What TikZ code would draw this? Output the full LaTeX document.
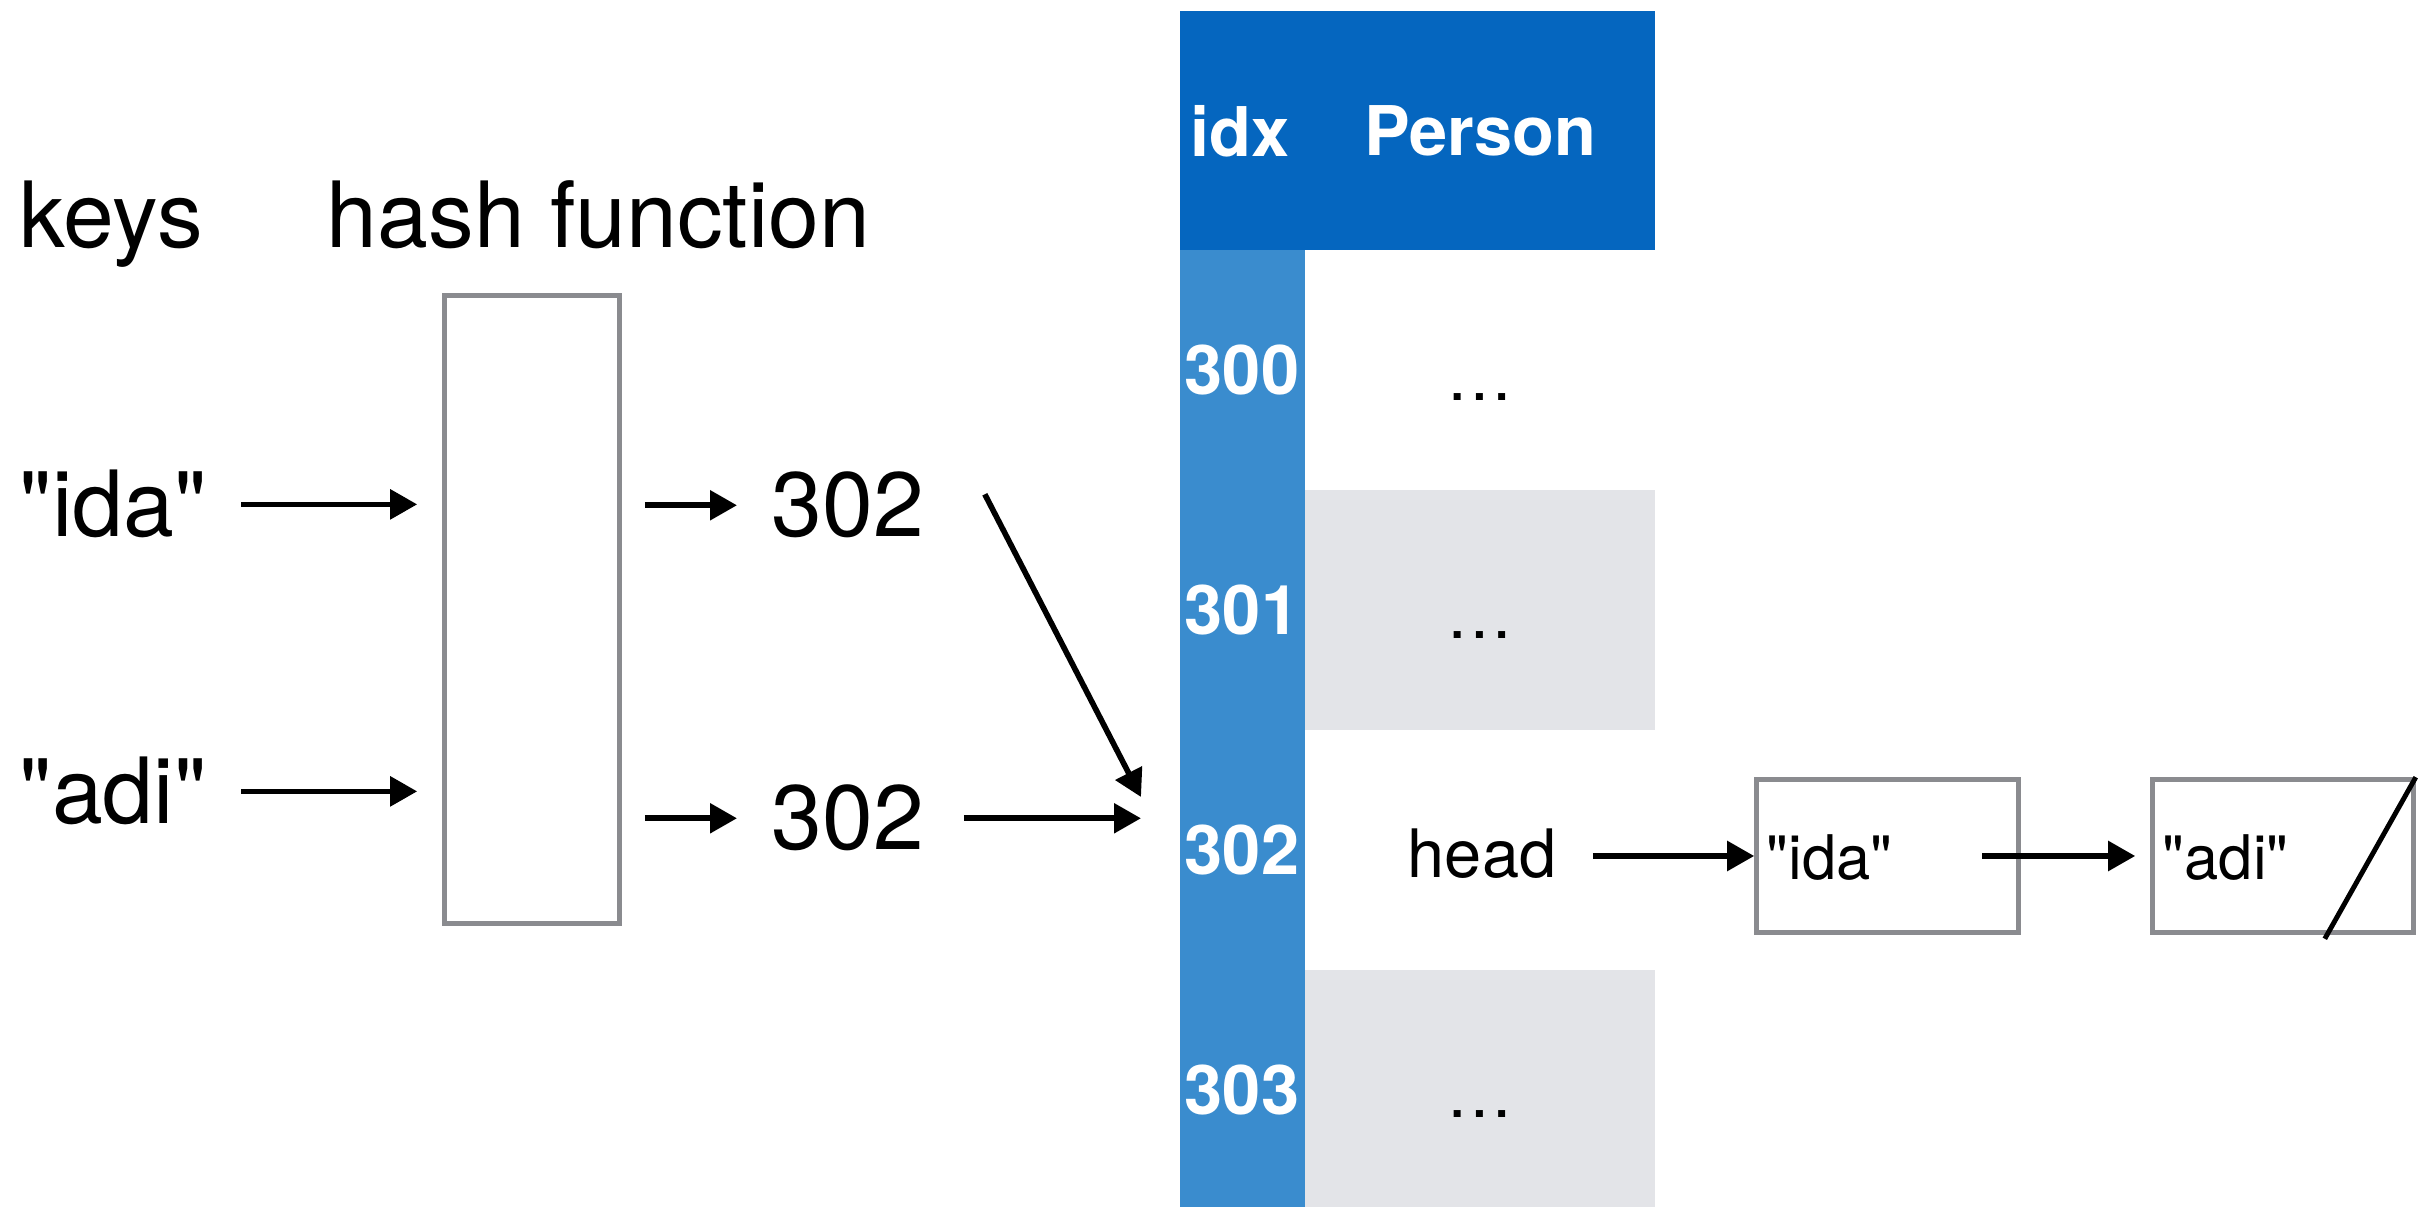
\documentclass[tikz,border=0pt]{standalone}
\usepackage{fontspec}
\setmainfont{TeX Gyre Heros}[Ligatures=TeXOff]
\usetikzlibrary{arrows.meta,positioning}

\definecolor{headblue}{RGB}{5,102,191}
\definecolor{idxblue}{RGB}{58,140,206}
\definecolor{rowgray}{RGB}{227,228,232}
\definecolor{framegray}{RGB}{138,139,143}

\tikzset{
  bigtxt/.style={font=\fontsize{26}{30}\selectfont, inner sep=0pt},
  midtxt/.style={font=\fontsize{19}{22}\selectfont, inner sep=0pt},
  celltxt/.style={font=\fontsize{17.5}{20}\selectfont, inner sep=0pt},
  boldtxt/.style={font=\bfseries\fontsize{19.5}{22}\selectfont, text=white, inner sep=0pt},
  ptr/.style={line width=1.6pt, -{Triangle[length=2.7mm, width=2.9mm]}},
  frame/.style={draw=framegray, line width=1.3pt, inner sep=0pt},
}

\begin{document}
\begin{tikzpicture}
  \useasboundingbox (0,0) rectangle (24.32,-12.07);

  % the table
  \fill[headblue] (11.80,-0.11) rectangle (16.55,-2.50);
  \fill[idxblue] (11.80,-2.50) rectangle (13.05,-12.07);
  \fill[rowgray] (13.05,-4.90) rectangle (16.55,-7.30);
  \fill[rowgray] (13.05,-9.70) rectangle (16.55,-12.07);
  \node[boldtxt] (idxhd) at (12.40,-1.31) {idx};
  \node[boldtxt] (perhd) at (14.80,-1.31) {Person};
  \foreach \k/\y in {300/3.70, 301/6.10, 302/8.50, 303/10.90}
    \node[boldtxt] (r\k) at (12.42,-\y) {\k};
  \foreach \k/\y in {300/3.97, 301/6.35, 303/11.14}
    \node[midtxt] (v\k) at (14.80,-\y) {…};
  \node[midtxt, anchor=base] (head) at (14.82,-8.77) {head};

  % keys and hash function
  \node[bigtxt, anchor=base west] (keys) at (0.19,-2.48) {keys};
  \node[bigtxt, anchor=base west] (hashlbl) at (3.26,-2.48) {hash function};
  \node[frame, minimum width=1.75cm, minimum height=6.28cm] (hash) at (5.32,-6.095) {};
  \node[bigtxt, anchor=base west] (kida) at (0.19,-5.37) {"ida"};
  \node[bigtxt, anchor=base west] (kadi) at (0.19,-8.24) {"adi"};
  \node[bigtxt, anchor=base west] (h1) at (7.71,-5.37) {302};
  \node[bigtxt, anchor=base west] (h2) at (7.71,-8.50) {302};
  \coordinate (slot) at (11.41,-8.13);

  \draw[ptr] ([xshift=3.4mm]kida.east) -- ([xshift=-2.5mm]kida.east -| hash.west);
  \draw[ptr] ([xshift=3.4mm]kadi.east) -- ([xshift=-2.5mm]kadi.east -| hash.west);
  \draw[ptr] ([xshift=2.3mm]hash.east |- h1.west) -- ([xshift=-3.4mm]h1.west);
  \draw[ptr] ([xshift=2.3mm]hash.east |- h2.west) -- ([xshift=-3.4mm]h2.west);
  \draw[ptr] ([shift={(6mm,1.1mm)}]h1.east) -- ([yshift=1.6mm]slot);
  \draw[ptr] ([xshift=3.9mm]h2.east) -- (h2.east -| slot);

  % the chain
  \node[frame, minimum width=2.62cm, minimum height=1.53cm] (ibox) at (18.875,-8.56) {};
  \node[frame, minimum width=2.61cm, minimum height=1.53cm] (abox) at (22.83,-8.56) {};
  \node[celltxt, anchor=base west] (itxt) at ([shift={(1.2mm,-2.4mm)}]ibox.west) {"ida"};
  \node[celltxt, anchor=base west] (atxt) at ([shift={(1.2mm,-2.4mm)}]abox.west) {"adi"};
  \draw[ptr] ([xshift=3.6mm]head.east |- ibox.west) -- (ibox.west);
  \draw[ptr] ([xshift=-3.85mm]ibox.east) -- ([xshift=-1.5mm]abox.west);
  \draw[line width=1.4pt] (abox.north east) -- ([shift={(-9.1mm,-0.4mm)}]abox.south east);
\end{tikzpicture}
\end{document}
